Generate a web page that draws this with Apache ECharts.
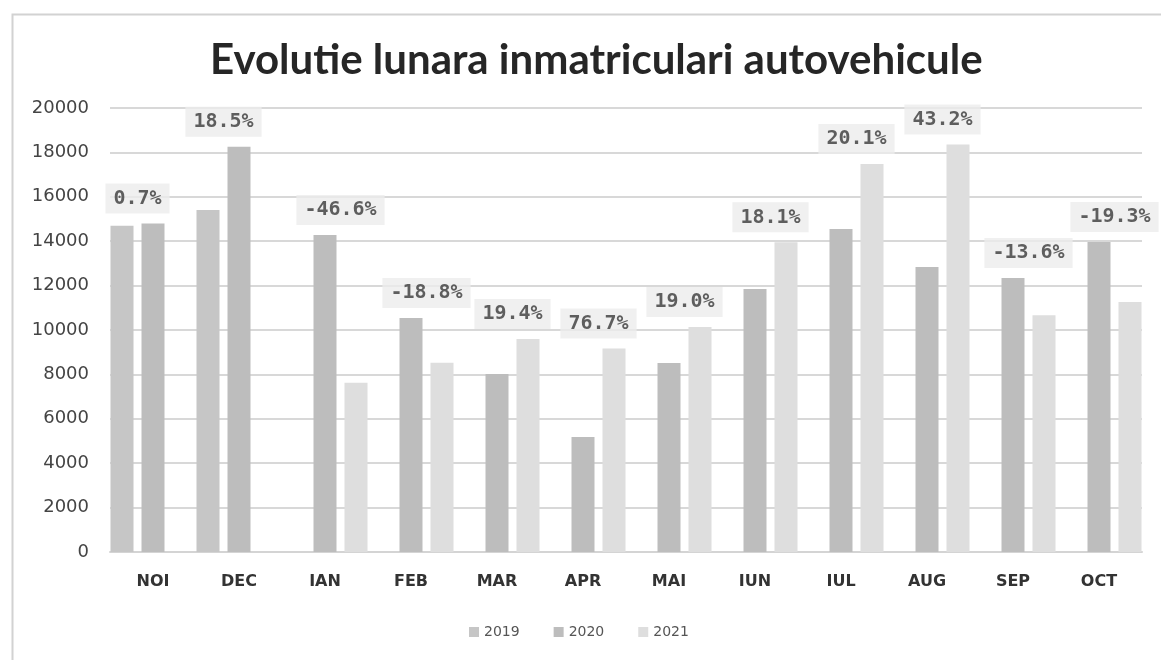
<!DOCTYPE html>
<html>
<head>
<meta charset="utf-8">
<script src="https://cdn.jsdelivr.net/npm/echarts@6/dist/echarts.min.js"></script>
<style>
html,body{margin:0;padding:0;background:#fff;}
#chart{width:1161px;height:660px;}
</style>
</head>
<body>
<div id="chart"></div>
<script>
const categories = ['NOI','DEC','IAN','FEB','MAR','APR','MAI','IUN','IUL','AUG','SEP','OCT'];
const s2019 = [14700, 15400, null, null, null, null, null, null, null, null, null, null];
const s2020 = [14800, 18250, 14280, 10540, 8020, 5180, 8510, 11850, 14550, 12840, 12340, 13960];
const s2021 = [null, null, 7620, 8530, 9600, 9170, 10130, 13950, 17480, 18360, 10670, 11260];
const pctLabels = ['0.7%','18.5%','-46.6%','-18.8%','19.4%','76.7%','19.0%','18.1%','20.1%','43.2%','-13.6%','-19.3%'];
const seriesNames = ['2019','2020','2021'];
const colors = ['#c6c6c6','#bdbdbd','#dedede'];

const BAR_W = 23, BAR_GAP = 8;
const labelData = categories.map((c, i) => {
  const pair = s2019[i] != null ? [s2019[i], s2020[i]] : [s2020[i], s2021[i]];
  const dx = (s2019[i] != null ? -1 : 1) * (BAR_W + BAR_GAP) / 2;
  return {
    value: [i, Math.max(pair[0], pair[1])],
    label: { offset: [dx, -25], formatter: pctLabels[i] }
  };
});

const chart = echarts.init(document.getElementById('chart'), null, {renderer: 'canvas'});
const mkBar = (name, data, color) => ({
  name, type: 'bar', data, barWidth: BAR_W, barGap: (BAR_GAP / BAR_W * 100) + '%',
  itemStyle: { color }, emphasis: { disabled: true }
});
chart.setOption({
  animation: false,
  backgroundColor: '#ffffff',
  graphic: [{
    type: 'rect', left: 10, top: 12, shape: { width: 1170, height: 660 },
    style: { fill: 'none', stroke: '#d2d2d2', lineWidth: 2 }, silent: true, z: -1
  }],
  title: {
    text: 'Evolutie lunara inmatriculari autovehicule',
    left: 205, top: 34,
    textStyle: { fontFamily: 'Lato', fontWeight: 'bold', fontSize: 42, color: '#262626' }
  },
  legend: {
    data: seriesNames, bottom: 16, left: 464, itemWidth: 10, itemHeight: 10, itemGap: 34,
    icon: 'rect',
    textStyle: { fontFamily: 'DejaVu Sans', fontSize: 14, color: '#555' }
  },
  grid: { left: 110, right: 19, top: 108, bottom: 108, containLabel: false },
  xAxis: {
    type: 'category', data: categories,
    axisLine: { show: true, lineStyle: { color: '#d4d4d4', width: 2 } },
    axisTick: { show: false },
    axisLabel: { margin: 22, fontFamily: 'DejaVu Sans', fontWeight: 'bold', fontSize: 16, color: '#333' }
  },
  yAxis: {
    type: 'value', min: 0, max: 20000, interval: 2000,
    axisLine: { show: false }, axisTick: { show: false },
    axisLabel: { margin: 21, fontFamily: 'DejaVu Sans', fontSize: 18, color: '#444', formatter: v => String(v) },
    splitLine: { lineStyle: { color: '#d8d8d8', width: 2 } }
  },
  series: [
    mkBar(seriesNames[0], s2019, colors[0]),
    mkBar(seriesNames[1], s2020, colors[1]),
    mkBar(seriesNames[2], s2021, colors[2]),
    {
      type: 'scatter', data: labelData, symbolSize: 0, silent: true, z: 5,
      label: {
        show: true, position: 'inside',
        fontFamily: 'DejaVu Sans Mono', fontWeight: 'bold', fontSize: 20, color: '#3a3a3a',
        backgroundColor: '#ececec', padding: [5, 8]
      }
    }
  ]
});
</script>
</body>
</html>
